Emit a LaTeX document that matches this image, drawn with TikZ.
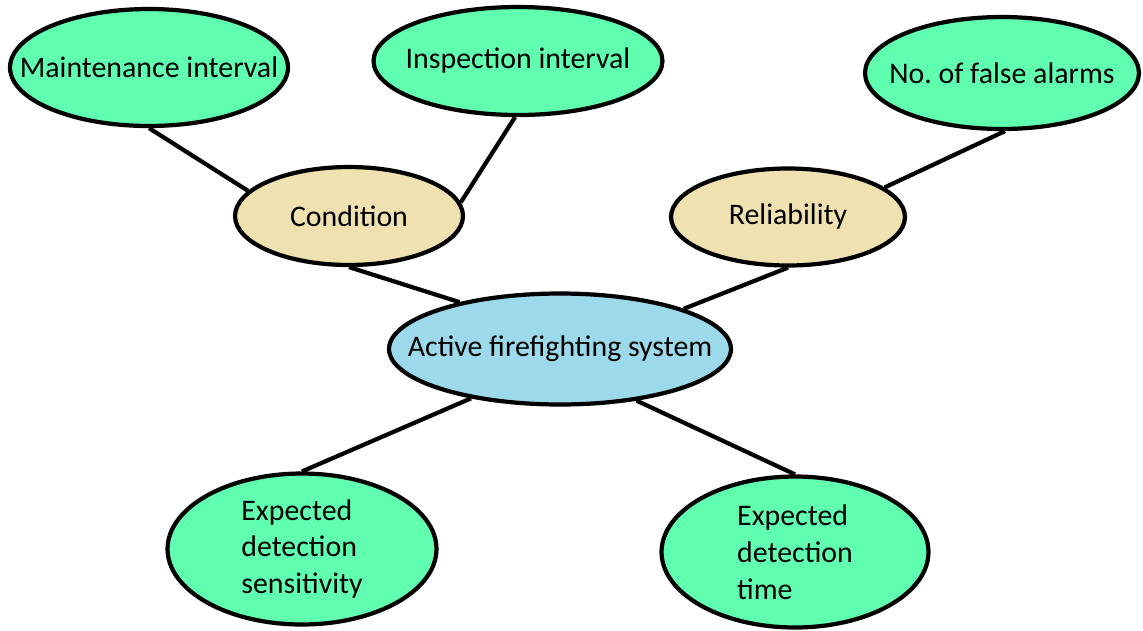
\documentclass[tikz,border=0pt]{standalone}
\usepackage{fontspec}
\setmainfont{Carlito}
\usepackage{xcolor}
\usetikzlibrary{shapes,positioning}

\definecolor{leafgreen}{RGB}{95,255,175}
\definecolor{midbeige}{RGB}{240,226,176}
\definecolor{rootblue}{RGB}{156,217,234}

\begin{document}
\begin{tikzpicture}[x=0.02cm, y=-0.02cm, line width=2.4pt,
    every node/.style={font=\fontsize{17}{21}\selectfont},
    bubble/.style={draw, ellipse, line width=2.4pt, inner xsep=-4cm, inner ysep=-2cm, align=left},
    leaf/.style={bubble, fill=leafgreen},
    middle/.style={bubble, fill=midbeige},
    root/.style={bubble, fill=rootblue}]
    \useasboundingbox (0,0) rectangle (1143,630);

    \node [root, minimum width=6.84cm, minimum height=2.22cm] (afs) at (560,349) {Active firefighting system};
    \node [middle, minimum width=4.56cm, minimum height=1.96cm] (cond) at (349,216) {Condition};
    \node [middle, minimum width=4.68cm, minimum height=1.94cm] (rel) at (788,217) {Reliability};
    \node [leaf, minimum width=5.56cm, minimum height=2.34cm] (maint) at (149,67.5) {Maintenance interval};
    \node [leaf, minimum width=5.78cm, minimum height=2.16cm] (insp) at (518,61) {Inspection interval};
    \node [leaf, minimum width=5.48cm, minimum height=2.24cm] (alarms) at (1002,73) {No.\ of false alarms};
    \node [leaf, minimum width=5.38cm, minimum height=3.02cm] (sens) at (302,549) {Expected\\detection\\sensitivity};
    \node [leaf, minimum width=5.34cm, minimum height=3.02cm] (dtime) at (795,552) {Expected\\detection\\time};

    \draw (maint.south) -- (cond.166);
    \draw (insp.267) -- (cond.7);
    \draw (alarms.273) -- (rel.17);
    \draw (cond.south) -- (afs.155);
    \draw (rel.south) -- (afs.18);
    \draw (afs.209) -- (sens.north);
    \draw (afs.326) -- (dtime.north);
\end{tikzpicture}
\end{document}
